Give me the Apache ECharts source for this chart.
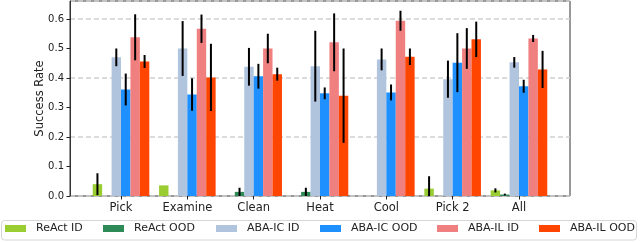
<!DOCTYPE html>
<html>
<head>
<meta charset="utf-8">
<script src="https://cdn.jsdelivr.net/npm/echarts@6/dist/echarts.min.js"></script>
<style>
html,body{margin:0;padding:0;background:#fff;}
#chart{width:640px;height:242px;}
</style>
</head>
<body>
<div id="chart"></div>
<script>
const categories = ['Pick', 'Examine', 'Clean', 'Heat', 'Cool', 'Pick 2', 'All'];
const seriesNames = ['ReAct ID', 'ReAct OOD', 'ABA-IC ID', 'ABA-IC OOD', 'ABA-IL ID', 'ABA-IL OOD'];
const reactId     = [0.040, 0.036, 0.000, 0.000, 0.000, 0.025, 0.019];
const reactIdErr  = [0.037, 0.000, 0.000, 0.000, 0.000, 0.042, 0.007];
const reactOod    = [0.000, 0.000, 0.014, 0.014, 0.000, 0.000, 0.005];
const reactOodErr = [0.000, 0.000, 0.014, 0.014, 0.000, 0.000, 0.003];
const icId        = [0.470, 0.500, 0.438, 0.440, 0.463, 0.396, 0.453];
const icIdErr     = [0.030, 0.093, 0.064, 0.120, 0.037, 0.063, 0.018];
const icOod       = [0.361, 0.344, 0.406, 0.348, 0.351, 0.452, 0.372];
const icOodErr    = [0.054, 0.055, 0.042, 0.020, 0.027, 0.100, 0.022];
const ilId        = [0.538, 0.567, 0.500, 0.521, 0.594, 0.500, 0.534];
const ilIdErr     = [0.078, 0.048, 0.050, 0.098, 0.034, 0.069, 0.012];
const ilOod       = [0.456, 0.402, 0.413, 0.340, 0.472, 0.531, 0.429];
const ilOodErr    = [0.022, 0.114, 0.022, 0.160, 0.028, 0.060, 0.063];

const values = [reactId, reactOod, icId, icOod, ilId, ilOod];
const errors = [reactIdErr, reactOodErr, icIdErr, icOodErr, ilIdErr, ilOodErr];
const colors = ['#9acd32', '#2e8b57', '#b0c4de', '#1e90ff', '#f08080', '#ff4500'];

const FONT = 'DejaVu Sans';
const BAR_W = 9.43;
const Y_MAX = 0.661;
const legendLeft = [5, 103, 216, 320, 437, 539];

const chart = echarts.init(document.getElementById('chart'), null, {renderer: 'canvas'});

const series = [];
values.forEach((vals, k) => {
  series.push({
    name: seriesNames[k],
    type: 'bar',
    xAxisIndex: 1,
    yAxisIndex: 2,
    data: vals,
    barWidth: BAR_W,
    barGap: '0%',
    itemStyle: {color: colors[k]},
    emphasis: {disabled: true},
    z: 2
  });
});
const errData = [];
errors.forEach((errs, k) => {
  errs.forEach((e, i) => {
    if (e > 0) errData.push([i, values[k][i] - e, values[k][i] + e, k]);
  });
});
series.push({
  type: 'custom',
  xAxisIndex: 1,
  yAxisIndex: 2,
  clip: true,
  z: 5,
  data: errData,
  renderItem: function (params, api) {
    const i = api.value(0), k = api.value(3);
    const p1 = api.coord([i, api.value(1)]);
    const p2 = api.coord([i, api.value(2)]);
    const x = p1[0] + (k - 2.5) * BAR_W;
    return {
      type: 'line',
      shape: {x1: x, y1: p1[1], x2: x, y2: p2[1]},
      style: {stroke: '#000', lineWidth: 2}
    };
  }
});

const legends = seriesNames.map((n, k) => ({
  data: [n],
  left: legendLeft[k],
  top: 223,
  padding: 0,
  itemWidth: 21,
  itemHeight: 7,
  icon: 'rect',
  selectedMode: false,
  textStyle: {fontFamily: FONT, fontSize: 11, color: '#222', padding: [0, 0, 0, 5]}
}));

chart.setOption({
  animation: false,
  backgroundColor: '#fff',
  color: colors,
  graphic: [{
    type: 'rect',
    shape: {x: 1.5, y: 220.5, width: 635, height: 19.5, r: 3},
    style: {fill: '#fff', stroke: '#d6d6d6', lineWidth: 1},
    z: -1
  }],
  legend: legends,
  grid: [
    {left: 70, top: 1, width: 500, height: 195, show: true, borderColor: '#333', borderWidth: 1, backgroundColor: 'transparent'},
    {left: 87.85, top: 1, width: 464.3, height: 195}
  ],
  xAxis: [
    {type: 'value', gridIndex: 0, min: 0, max: 1, axisLine: {show: false}, axisTick: {show: false}, axisLabel: {show: false}, splitLine: {show: false}},
    {type: 'category', gridIndex: 1, data: categories,
     axisLine: {show: false},
     axisTick: {show: true, alignWithLabel: true, length: 3.5, lineStyle: {color: '#222', width: 1}},
     axisLabel: {fontFamily: FONT, fontSize: 11.5, color: '#222', margin: 6},
     splitLine: {show: false}}
  ],
  yAxis: [
    {type: 'value', gridIndex: 0, min: 0, max: Y_MAX, interval: 0.1, position: 'left',
     name: 'Success Rate', nameLocation: 'middle', nameGap: 24, nameMoveOverlap: false,
     nameTextStyle: {fontFamily: FONT, fontSize: 11.5, color: '#222'},
     axisLine: {show: true, lineStyle: {color: '#333', width: 1}},
     axisTick: {show: true, length: 3.5, lineStyle: {color: '#222', width: 1}},
     axisLabel: {fontFamily: FONT, fontSize: 10, color: '#222', margin: 6, showMaxLabel: false,
                 formatter: v => v.toFixed(1)},
     splitLine: {show: false}},
    {type: 'value', gridIndex: 0, min: 0, max: Y_MAX, interval: 0.2, position: 'right',
     axisLine: {show: false}, axisTick: {show: false}, axisLabel: {show: false},
     splitLine: {show: true, lineStyle: {color: '#cfcfcf', width: 1.5, type: [5, 3]}}},
    {type: 'value', gridIndex: 1, min: 0, max: Y_MAX, show: false}
  ],
  series: series
});
</script>
</body>
</html>
